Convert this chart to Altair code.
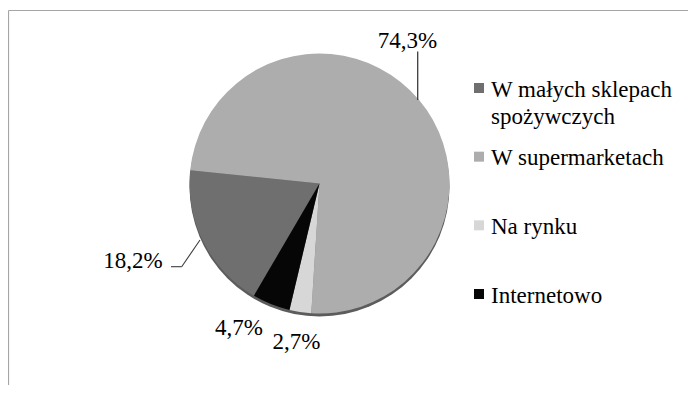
import math
import altair as alt
import pandas as pd

categories = ["W małych sklepach spożywczych", "W supermarketach", "Na rynku", "Internetowo"]
legend_labels = ["W małych sklepach\nspożywczych", "W supermarketach", "Na rynku", "Internetowo"]
values = [18.2, 74.3, 2.7, 4.7]
value_labels = ["18,2%", "74,3%", "2,7%", "4,7%"]
colors = ["#6f6f6f", "#adadad", "#d7d7d7", "#060606"]

df = pd.DataFrame({
    "cat": categories,
    "legend": legend_labels,
    "value": values,
    "label": value_labels,
    "order": list(range(len(categories))),
})

FONT = "Liberation Serif"
CX, CY, R = 311.5, 175.5, 130
start = math.radians(210.3)

base = alt.Chart(df)

rim = alt.Chart(pd.DataFrame({"k": [0]})).mark_arc(
    radius=R, theta=0, theta2=2 * math.pi, color="#5c5c5c"
).encode(x=alt.value(CX), y=alt.value(CY + 3))

pie = base.mark_arc(radius=R).encode(
    theta=alt.Theta("value:Q", stack=True,
                    scale=alt.Scale(range=[start, start + 2 * math.pi])),
    order=alt.Order("order:Q"),
    color=alt.Color("cat:N", scale=alt.Scale(domain=categories, range=colors), legend=None),
    x=alt.value(CX),
    y=alt.value(CY),
)

def label(i, x, y):
    return alt.Chart(df.iloc[[i]]).mark_text(
        font=FONT, fontSize=23, color="#000000", align="center", baseline="alphabetic"
    ).encode(text="label:N", x=alt.value(x), y=alt.value(y))

labels = [
    label(1, 399.5, 39.5),
    label(0, 125, 260),
    label(3, 231, 327),
    label(2, 288.5, 340.5),
]

line_color = "#3c3c3c"
leader1 = alt.Chart(pd.DataFrame({"k": [0]})).mark_rule(color=line_color, strokeWidth=1.3).encode(
    x=alt.value(409.7), y=alt.value(43.5), y2=alt.value(92))
leader2a = alt.Chart(pd.DataFrame({"k": [0]})).mark_rule(color=line_color, strokeWidth=1.1).encode(
    x=alt.value(163), x2=alt.value(173.7), y=alt.value(258.7), y2=alt.value(258.7))
leader2b = alt.Chart(pd.DataFrame({"k": [0]})).mark_rule(color=line_color, strokeWidth=1.1).encode(
    x=alt.value(173.7), x2=alt.value(192), y=alt.value(258.7), y2=alt.value(232))

border_top = alt.Chart(pd.DataFrame({"k": [0]})).mark_rule(color="#a6a6a6", strokeWidth=1.2).encode(
    x=alt.value(0.5), x2=alt.value(690), y=alt.value(2.5), y2=alt.value(2.5))
border_left = alt.Chart(pd.DataFrame({"k": [0]})).mark_rule(color="#a6a6a6", strokeWidth=1.2).encode(
    x=alt.value(0.5), x2=alt.value(0.5), y=alt.value(2.5), y2=alt.value(390))

leg_y = alt.Y("order:Q", scale=alt.Scale(domain=[0, 3], range=[80, 286], nice=False, zero=False), axis=None)

leg_sq = base.mark_square(size=100, opacity=1).encode(
    x=alt.value(471),
    y=leg_y,
    color=alt.Color("cat:N", scale=alt.Scale(domain=categories, range=colors), legend=None),
)
leg_txt = base.mark_text(
    font=FONT, fontSize=23, color="#000000", align="left", baseline="top",
    lineBreak="\n", lineHeight=27, dy=-9.5
).encode(x=alt.value(483), y=leg_y, text="legend:N")

chart = alt.layer(
    border_top, border_left, rim, pie, *labels, leader1, leader2a, leader2b, leg_sq, leg_txt
).properties(
    width=680, height=377, padding=0, autosize="none"
).configure_view(stroke=None)

chart.save("out.html", embed_options={"renderer": "svg", "actions": False})
